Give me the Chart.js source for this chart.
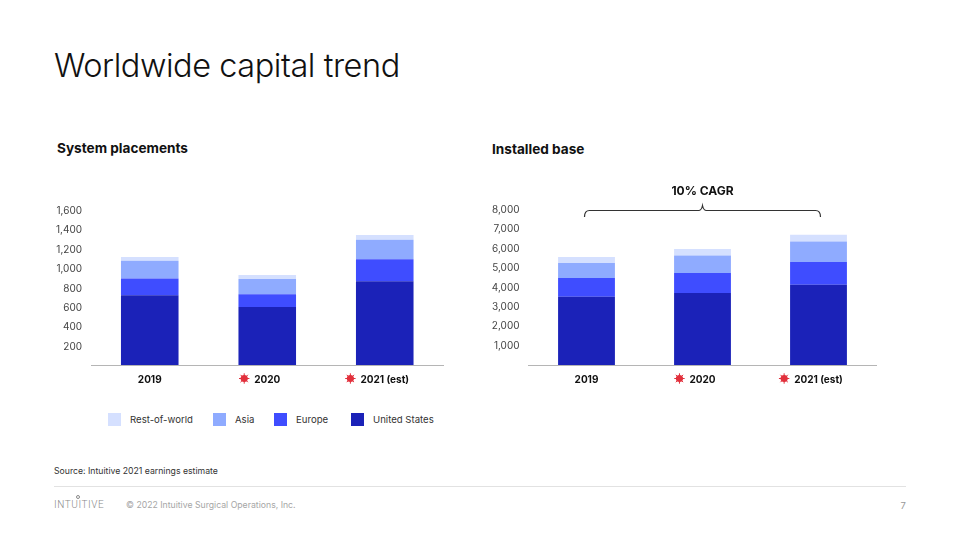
<!DOCTYPE html>
<html>
<head>
<meta charset="utf-8">
<title>Worldwide capital trend</title>
<script src="https://cdn.jsdelivr.net/npm/chart.js@4"></script>
<style>
  html, body { margin: 0; padding: 0; background: #fff; }
  body { width: 960px; height: 540px; position: relative; overflow: hidden; font-family: Inter, sans-serif; color: #111; }
  .abs { position: absolute; white-space: nowrap; line-height: 1; }
  canvas { position: absolute; }
  #title { left: 54px; top: 50px; font-size: 32.5px; font-weight: 300; letter-spacing: -0.45px; }
  .sub { font-size: 13.6px; font-weight: 700; }
  #legend span.box { position: absolute; top: 413px; width: 13px; height: 13px; }
  #legend span.txt { position: absolute; top: 415px; font-size: 9.6px; line-height: 1; color: #333; white-space: nowrap; }
  #source { left: 54px; top: 467px; font-size: 8.7px; color: #333; }
  #rule { position: absolute; left: 54px; top: 485.5px; width: 852px; height: 1.5px; background: #e2e2e2; }
  #logo { left: 54px; top: 500px; font-family: Roboto, sans-serif; font-size: 10px; letter-spacing: 0.55px; color: #8a8a8a; font-weight: 300; }
  #logoDot { position: absolute; left: 76px; top: 495px; width: 2px; height: 2px; border: 0.6px solid #8a8a8a; border-radius: 50%; }
  #copy { left: 126px; top: 501px; font-size: 8.7px; color: #a6a6a6; }
  #page { right: 54px; top: 501px; font-size: 9.5px; color: #999; }
</style>
</head>
<body>
<div class="abs" id="title">Worldwide capital trend</div>
<div class="abs sub" style="left:57px;top:142px">System placements</div>
<div class="abs sub" style="left:492px;top:143px">Installed base</div>

<canvas id="placementsChart" width="410" height="230" style="left:40px;top:170px;width:410px;height:230px"></canvas>
<canvas id="baseChart" width="410" height="230" style="left:478px;top:170px;width:410px;height:230px"></canvas>

<div id="legend"></div>
<div class="abs" id="source">Source: Intuitive 2021 earnings estimate</div>
<div id="rule"></div>
<div class="abs" id="logo">INTUITIVE</div>
<div id="logoDot"></div>
<div class="abs" id="copy">© 2022 Intuitive Surgical Operations, Inc.</div>
<div class="abs" id="page">7</div>

<script>
const years = ["2019", "2020", "2021 (est)"];
const seriesNames = ["United States", "Europe", "Asia", "Rest-of-world"];
const seriesColors = ["#1b22b8", "#3f4dff", "#8fabff", "#d5e0ff"];

const placementsUS = [720, 600, 865];
const placementsEurope = [172, 130, 226];
const placementsAsia = [185, 158, 202];
const placementsRow = [38, 42, 48];

const baseUS = [3520, 3710, 4137];
const baseEurope = [976, 1042, 1179];
const baseAsia = [769, 906, 1060];
const baseRow = [308, 325, 342];

// years that get the little red virus mark
const markedYears = ["2020", "2021 (est)"];
const cagrLabel = "10% CAGR";

const tickFont = { family: "Inter", size: 10 };
const yearFont = { family: "Inter", size: 10, weight: "700" };

function drawVirus(ctx, x, y) {
  ctx.save();
  ctx.strokeStyle = "#e2303c";
  ctx.fillStyle = "#e2303c";
  ctx.lineWidth = 1;
  ctx.beginPath();
  ctx.arc(x, y, 3.6, 0, Math.PI * 2);
  ctx.fill();
  for (let i = 0; i < 8; i++) {
    const a = i * Math.PI / 4;
    ctx.beginPath();
    ctx.moveTo(x, y);
    ctx.lineTo(x + Math.cos(a) * 5.2, y + Math.sin(a) * 5.2);
    ctx.stroke();
  }
  ctx.restore();
}

const virusMarks = {
  id: "virusMarks",
  afterDraw(chart) {
    const ctx = chart.ctx;
    const xScale = chart.scales.x;
    ctx.save();
    ctx.font = "700 10px Inter";
    years.forEach((year, i) => {
      if (!markedYears.includes(year)) return;
      const w = ctx.measureText(year).width;
      drawVirus(ctx, xScale.getPixelForTick(i) - w / 2 - 10, xScale.top + 13.5);
    });
    ctx.restore();
  }
};

// curly bracket over the whole bar range, with the growth label on top
const cagrBrace = {
  id: "cagrBrace",
  afterDraw(chart) {
    const ctx = chart.ctx;
    const xScale = chart.scales.x;
    const left = xScale.getPixelForTick(0) - 2;
    const right = xScale.getPixelForTick(2) + 2;
    const mid = (left + right) / 2;
    const top = chart.scales.y.getPixelForValue(8000) + 0.5;
    ctx.save();
    ctx.strokeStyle = "#333";
    ctx.lineWidth = 1.2;
    ctx.beginPath();
    ctx.moveTo(left, top + 6.5);
    ctx.quadraticCurveTo(left, top, left + 5, top);
    ctx.lineTo(mid - 4, top);
    ctx.quadraticCurveTo(mid - 1, top, mid, top - 5);
    ctx.quadraticCurveTo(mid + 1, top, mid + 4, top);
    ctx.lineTo(right - 5, top);
    ctx.quadraticCurveTo(right, top, right, top + 6.5);
    ctx.stroke();
    ctx.fillStyle = "#111";
    ctx.font = "700 12px Inter";
    ctx.textAlign = "center";
    ctx.textBaseline = "middle";
    ctx.fillText(cagrLabel, mid, top - 19);
    ctx.restore();
  }
};

function makeChart(id, seriesValues, yMax, yStep, axisLeft, paddingRight, labelNudge, extraPlugins) {
  return new Chart(document.getElementById(id), {
    type: "bar",
    data: {
      labels: years,
      datasets: seriesNames.map((name, i) => ({
        label: name,
        data: seriesValues[i],
        backgroundColor: seriesColors[i],
        categoryPercentage: 1,
        barPercentage: 0.49
      }))
    },
    options: {
      responsive: false,
      animation: false,
      layout: { padding: { top: 40, right: paddingRight, left: 0, bottom: 0 } },
      plugins: { legend: { display: false }, tooltip: { enabled: false } },
      scales: {
        x: {
          stacked: true,
          grid: { display: false },
          border: { color: "#b5b5b5" },
          ticks: { color: "#111", font: yearFont, padding: 1, maxRotation: 0 },
          afterFit: s => { s.height = 35; }
        },
        y: {
          stacked: true,
          min: 0,
          max: yMax,
          grid: { display: false, drawTicks: false },
          border: { display: false },
          ticks: {
            stepSize: yStep,
            color: "#444",
            font: tickFont,
            padding: 9,
            labelOffset: labelNudge,
            callback: v => (v === 0 ? "" : v.toLocaleString("en-US"))
          },
          afterFit: s => { s.width = axisLeft; }
        }
      }
    },
    plugins: [virusMarks].concat(extraPlugins)
  });
}

makeChart("placementsChart", [placementsUS, placementsEurope, placementsAsia, placementsRow], 1600, 200, 51, 6.5, 1, []);
makeChart("baseChart", [baseUS, baseEurope, baseAsia, baseRow], 8000, 1000, 50.5, 11.5, 0, [cagrBrace]);

// legend runs in the opposite order to the stack
const legendBoxX = [108, 213, 274, 351];
const legend = document.getElementById("legend");
seriesNames.slice().reverse().forEach((name, i) => {
  const box = document.createElement("span");
  box.className = "box";
  box.style.left = legendBoxX[i] + "px";
  box.style.background = seriesColors[seriesColors.length - 1 - i];
  const txt = document.createElement("span");
  txt.className = "txt";
  txt.style.left = legendBoxX[i] + 22 + "px";
  txt.textContent = name;
  legend.appendChild(box);
  legend.appendChild(txt);
});
</script>
</body>
</html>
